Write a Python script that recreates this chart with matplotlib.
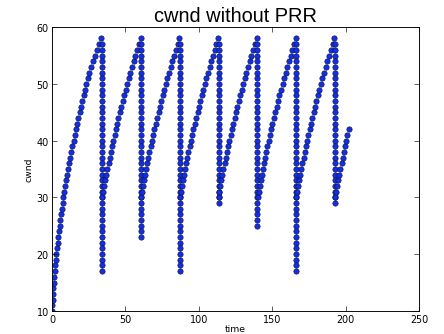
"""
cwnd trace for a loss-recovery run without PRR.

Scatter of congestion window (packets) against time; each loss shows up as a
vertical column where cwnd is pulled down, followed by the regrowth from
ssthresh back up to the 58-packet ceiling.
"""

import matplotlib

matplotlib.use("Agg")
import matplotlib.pyplot as plt
import numpy as np

# initial climb from the starting window
climb_time = [0.0, 0.2, 0.4, 0.7, 0.9, 1.2, 1.5, 1.9, 2.2, 2.6,
              2.9, 3.3, 3.8, 4.2, 4.7, 5.2, 5.6, 6.2, 6.7, 7.3,
              7.8, 8.4, 9.1, 9.7, 10.4, 11.0, 11.7, 12.4, 13.2, 13.9,
              14.7, 15.5, 16.3, 17.1, 18.0, 18.9, 19.8, 20.7, 21.6, 22.6,
              23.5, 24.5, 25.5, 26.6, 27.8, 29.0, 30.4, 32.0, 33.7]
climb_cwnd = [10, 11, 12, 13, 14, 15, 16, 17, 18, 19,
              20, 21, 22, 23, 24, 25, 26, 27, 28, 29,
              30, 31, 32, 33, 34, 35, 36, 37, 38, 39,
              40, 41, 42, 43, 44, 45, 46, 47, 48, 49,
              50, 51, 52, 53, 54, 55, 56, 57, 58]

# time at which each loss column sits
drop_time = [33.9, 60.6, 86.9, 113.4, 139.6, 166.3, 192.5]

# cwnd values in each loss column, top to bottom
drop1_cwnd = [57, 56, 55, 54, 53, 52, 51, 50, 49, 48, 47, 46, 45, 44,
              43, 42, 41, 40, 39, 38, 37, 36, 35, 34, 33, 32, 31, 30,
              29, 28, 27, 26, 25, 24, 23, 22, 21, 20, 19, 18, 17]
drop2_cwnd = [57, 56, 55, 54, 53, 52, 51, 50, 49, 48, 47, 46, 45, 44,
              43, 42, 41, 40, 39, 38, 37, 36, 35, 34, 33, 32, 31, 30,
              29, 28, 27, 26, 25, 24, 23]
drop3_cwnd = [57, 56, 55, 54, 53, 52, 51, 50, 49, 48, 47, 46, 45, 44,
              43, 42, 41, 40, 39, 38, 37, 36, 35, 34, 33, 32, 31, 30,
              29, 28, 27, 26, 25, 24, 23, 22, 21, 20, 19, 18, 17]
drop4_cwnd = [57, 56, 55, 54, 53, 52, 51, 50, 49, 48, 47, 46, 45, 44,
              43, 42, 41, 40, 39, 38, 37, 36, 35, 34, 33, 32, 31, 30,
              29]
drop5_cwnd = [57, 56, 55, 54, 53, 52, 51, 50, 49, 48, 47, 46, 45, 44,
              43, 42, 41, 40, 39, 38, 37, 36, 35, 34, 33, 32, 31, 30,
              29, 28, 27, 26, 25]
drop6_cwnd = [57, 56, 55, 54, 53, 52, 51, 50, 49, 48, 47, 46, 45, 44,
              43, 42, 41, 40, 39, 38, 37, 36, 35, 34, 33, 32, 31, 30,
              29, 28, 27, 26, 25, 24, 23, 22, 21, 20, 19, 18, 17]
drop7_cwnd = [57, 56, 55, 54, 53, 52, 51, 50, 49, 48, 47, 46, 45, 44,
              43, 42, 41, 40, 39, 38, 37, 36, 35, 34, 33, 32, 31, 30,
              29]

# regrowth after each loss, starting from ssthresh = 30
regrow_cwnd = [30, 31, 32, 33, 34, 35, 36, 37, 38, 39, 40, 41, 42, 43, 44,
               45, 46, 47, 48, 49, 50, 51, 52, 53, 54, 55, 56, 57, 58]
regrow1_time = [34.4, 35.0, 35.7, 36.4, 37.1, 37.8, 38.6, 39.4, 40.1, 41.0,
                41.8, 42.6, 43.5, 44.4, 45.3, 46.3, 47.2, 48.2, 49.2, 50.2,
                51.3, 52.3, 53.4, 54.5, 55.7, 56.8, 58.0, 59.2, 60.4]
regrow2_time = [60.7, 61.3, 62.0, 62.7, 63.4, 64.1, 64.9, 65.7, 66.4, 67.3,
                68.1, 68.9, 69.8, 70.7, 71.6, 72.6, 73.5, 74.5, 75.5, 76.5,
                77.6, 78.6, 79.7, 80.8, 82.0, 83.1, 84.3, 85.5, 86.7]
regrow3_time = [87.2, 87.8, 88.5, 89.2, 89.9, 90.6, 91.4, 92.2, 92.9, 93.8,
                94.6, 95.4, 96.3, 97.2, 98.1, 99.1, 100.0, 101.0, 102.0, 103.0,
                104.1, 105.1, 106.2, 107.3, 108.5, 109.6, 110.8, 112.0, 113.2]
regrow4_time = [113.4, 114.0, 114.7, 115.4, 116.1, 116.8, 117.6, 118.4, 119.1,
                120.0, 120.8, 121.6, 122.5, 123.4, 124.3, 125.3, 126.2, 127.2,
                128.2, 129.2, 130.3, 131.3, 132.4, 133.5, 134.7, 135.8, 137.0,
                138.2, 139.4]
regrow5_time = [140.1, 140.7, 141.4, 142.1, 142.8, 143.5, 144.3, 145.1, 145.8,
                146.7, 147.5, 148.3, 149.2, 150.1, 151.0, 152.0, 152.9, 153.9,
                154.9, 155.9, 157.0, 158.0, 159.1, 160.2, 161.4, 162.5, 163.7,
                164.9, 166.1]
regrow6_time = [166.3, 166.9, 167.6, 168.3, 169.0, 169.7, 170.5, 171.3, 172.0,
                172.9, 173.7, 174.5, 175.4, 176.3, 177.2, 178.2, 179.1, 180.1,
                181.1, 182.1, 183.2, 184.2, 185.3, 186.4, 187.6, 188.7, 189.9,
                191.1, 192.3]

# trace ends part-way through the last regrowth
tail_time = [193.0, 193.6, 194.3, 195.0, 195.7, 196.4, 197.2, 198.0, 198.7,
             199.6, 200.4, 201.2, 202.1]
tail_cwnd = [30, 31, 32, 33, 34, 35, 36, 37, 38, 39, 40, 41, 42]


def collect_points():
    drops = [drop1_cwnd, drop2_cwnd, drop3_cwnd, drop4_cwnd,
             drop5_cwnd, drop6_cwnd, drop7_cwnd]
    regrows = [regrow1_time, regrow2_time, regrow3_time,
               regrow4_time, regrow5_time, regrow6_time]

    xs = [np.asarray(climb_time)]
    ys = [np.asarray(climb_cwnd)]
    for i, col in enumerate(drops):
        xs.append(np.full(len(col), drop_time[i]))
        ys.append(np.asarray(col))
        if i < len(regrows):
            xs.append(np.asarray(regrows[i]))
            ys.append(np.asarray(regrow_cwnd))
    xs.append(np.asarray(tail_time))
    ys.append(np.asarray(tail_cwnd))
    return np.concatenate(xs), np.concatenate(ys)


def main():
    t, cwnd = collect_points()

    fig = plt.figure(figsize=(8.0, 6.036), dpi=55.5)
    ax = fig.add_axes([0.117, 0.069, 0.827, 0.847])

    ax.scatter(t, cwnd, s=48, c="#1030e8", edgecolors="#101040", linewidths=0.8)

    ax.set_xlim(0, 250)
    ax.set_ylim(10, 60)
    ax.set_xticks([0, 50, 100, 150, 200, 250])
    ax.set_yticks([10, 20, 30, 40, 50, 60])
    ax.tick_params(direction="in", top=True, right=True, length=6,
                   labelsize=12.5, pad=4)
    for side in ax.spines.values():
        side.set_linewidth(1.2)

    ax.set_xlabel("time", fontsize=12, labelpad=0)
    ax.set_ylabel("cwnd", fontsize=12)
    ax.set_title("cwnd without PRR", fontsize=26, family="Liberation Sans",
                 pad=8)

    fig.savefig("out.png", dpi=55.5)
    plt.close(fig)


if __name__ == "__main__":
    main()
